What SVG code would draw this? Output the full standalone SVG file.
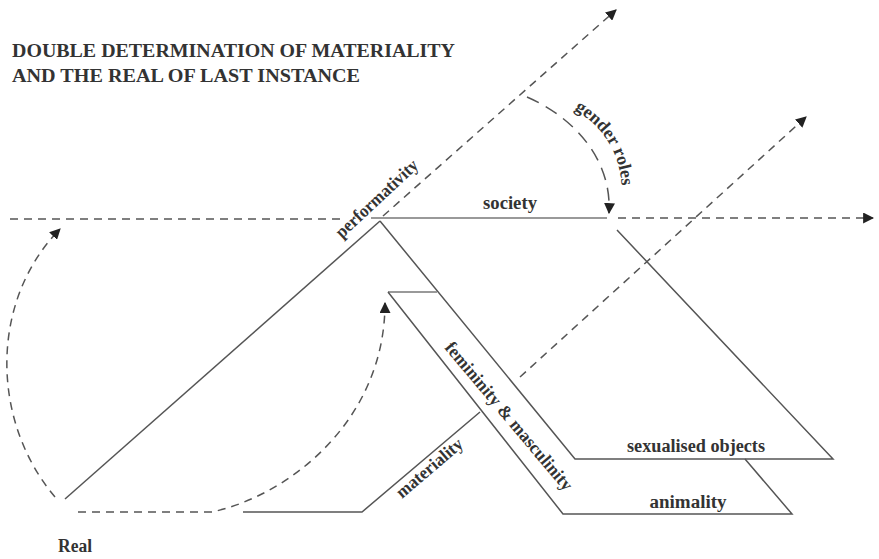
<svg xmlns="http://www.w3.org/2000/svg" width="879" height="559" viewBox="0 0 879 559">
  <style>
    .title { font-family: "Liberation Serif", "Times New Roman", serif; font-weight: bold; font-size: 19.5px; fill: #333; }
    .lbl { font-family: "Liberation Serif", "Times New Roman", serif; font-weight: bold; font-size: 18px; fill: #333; }
    .solid { fill: none; stroke: #555; stroke-width: 1.5; stroke-linejoin: miter; }
    .light { fill: none; stroke: #999; stroke-width: 2; }
    .dash { fill: none; stroke: #555; stroke-width: 1.5; stroke-dasharray: 8 6; }
    .dashlong { fill: none; stroke: #555; stroke-width: 1.5; stroke-dasharray: 13 8; }
  </style>
  <defs>
    <marker id="ah" viewBox="0 0 10 10" refX="9" refY="5" markerWidth="11" markerHeight="11" markerUnits="userSpaceOnUse" orient="auto">
      <path d="M0,0 L10,5 L0,10 z" fill="#222"/>
    </marker>
    <path id="genderPath" d="M 560,102 C 600,120 622,150 622,195"/>
  </defs>
  <rect width="879" height="559" fill="#fff"/>

  <g id="title">
    <text class="title" x="12" y="57" textLength="443" lengthAdjust="spacingAndGlyphs">DOUBLE DETERMINATION OF MATERIALITY</text>
    <text class="title" x="12" y="82" textLength="348" lengthAdjust="spacingAndGlyphs">AND THE REAL OF LAST INSTANCE</text>
  </g>

  <g id="connectors">
    <path class="dash" d="M10,219 L345,219"/>
    <path class="dash" d="M618,218 L873,218" marker-end="url(#ah)"/>
    <path class="dash" d="M383,216 L616,10" marker-end="url(#ah)"/>
    <path class="dash" d="M520,377 L806,117" marker-end="url(#ah)"/>
    <path class="dashlong" d="M527,97 C 575,118 612,160 609,213" marker-end="url(#ah)"/>
    <path class="dash" d="M55,497 C -10,420 -10,300 60,229" marker-end="url(#ah)"/>
    <path class="dash" d="M78,512 L212,512 C 290,495 385,420 385,303" marker-end="url(#ah)"/>
  </g>

  <g id="performativity">
    <path class="solid" d="M65,499 L380,221"/>
    <text class="lbl" transform="translate(342,239) rotate(-43)" textLength="106" lengthAdjust="spacingAndGlyphs">performativity</text>
  </g>

  <g id="society">
    <path class="light" d="M371,218 L607,218"/>
    <text class="lbl" x="510" y="209" text-anchor="middle" textLength="54" lengthAdjust="spacingAndGlyphs">society</text>
  </g>

  <g id="gender-roles">
    <text class="lbl"><textPath href="#genderPath" startOffset="16">gender roles</textPath></text>
  </g>

  <g id="sexualised-objects">
    <path class="solid" d="M380,221 L575,459 L833,459 L617,230"/>
    <text class="lbl" x="696" y="452" text-anchor="middle" textLength="138" lengthAdjust="spacingAndGlyphs">sexualised objects</text>
  </g>

  <g id="femininity-masculinity">
    <path class="light" d="M388,292 L437,292"/>
    <path class="solid" d="M388,292 L563,514 L792,514 L745,459"/>
    <text class="lbl" transform="translate(444,348) rotate(50)" textLength="188" lengthAdjust="spacingAndGlyphs">femininity &amp; masculinity</text>
  </g>

  <g id="animality">
    <text class="lbl" x="688" y="508" text-anchor="middle" textLength="77" lengthAdjust="spacingAndGlyphs">animality</text>
  </g>

  <g id="materiality">
    <path class="solid" d="M243,512 L362,512 L480,412"/>
    <text class="lbl" transform="translate(402,499) rotate(-40.5)" textLength="82" lengthAdjust="spacingAndGlyphs">materiality</text>
  </g>

  <g id="real">
    <text class="lbl" x="58" y="552" textLength="34" lengthAdjust="spacingAndGlyphs">Real</text>
  </g>
</svg>
